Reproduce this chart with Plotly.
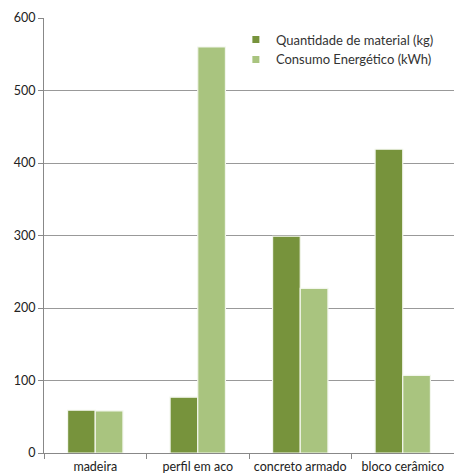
import plotly.graph_objects as go

categories = ["madeira", "perfil em aco", "concreto armado", "bloco cerâmico"]
quantidade = [59, 77, 299, 419]
consumo = [58, 560, 227, 107]
series_names = ["Quantidade de material (kg)", "Consumo Energético (kWh)"]
colors = ["#77933C", "#A9C47F"]
y_ticks = [0, 100, 200, 300, 400, 500, 600]

fig = go.Figure()
for vals, name, col in zip([quantidade, consumo], series_names, colors):
    fig.add_trace(go.Bar(x=categories, y=vals, name=name, showlegend=False,
                         marker=dict(color=col, line=dict(color="#F2F6EC", width=1.2))))
# legend entries with small square swatches
for name, col in zip(series_names, colors):
    fig.add_trace(go.Scatter(x=[None], y=[None], mode="markers", name=name,
                             marker=dict(symbol="square", size=7, color=col)))

fig.update_layout(
    width=454, height=475,
    margin=dict(l=44, r=0, t=18, b=22),
    paper_bgcolor="white", plot_bgcolor="white",
    barmode="group", bargap=0.46, bargroupgap=0.0,
    font=dict(family="Lato, Open Sans, sans-serif", size=12, color="#222"),
    legend=dict(x=0.468, y=0.985, xanchor="left", yanchor="top",
                bgcolor="rgba(0,0,0,0)", font=dict(size=13, color="#333"),
                tracegroupgap=0, itemwidth=30),
    showlegend=True,
)
fig.update_xaxes(type="category", range=[-0.5, 3.5], tickson="boundaries",
                 ticks="outside", ticklen=5, tickcolor="#888",
                 showline=True, linecolor="#888", linewidth=1,
                 showgrid=False, tickfont=dict(size=12.5, color="#222"),
                 ticklabelstandoff=2)
fig.update_yaxes(range=[0, 600], tickvals=y_ticks, ticks="outside", ticklen=5,
                 tickcolor="#888", showline=True, linecolor="#888", linewidth=1,
                 showgrid=True, gridcolor="#999", gridwidth=1, zeroline=False,
                 tickfont=dict(size=12.5, color="#222"))

fig.write_html("out.html")
